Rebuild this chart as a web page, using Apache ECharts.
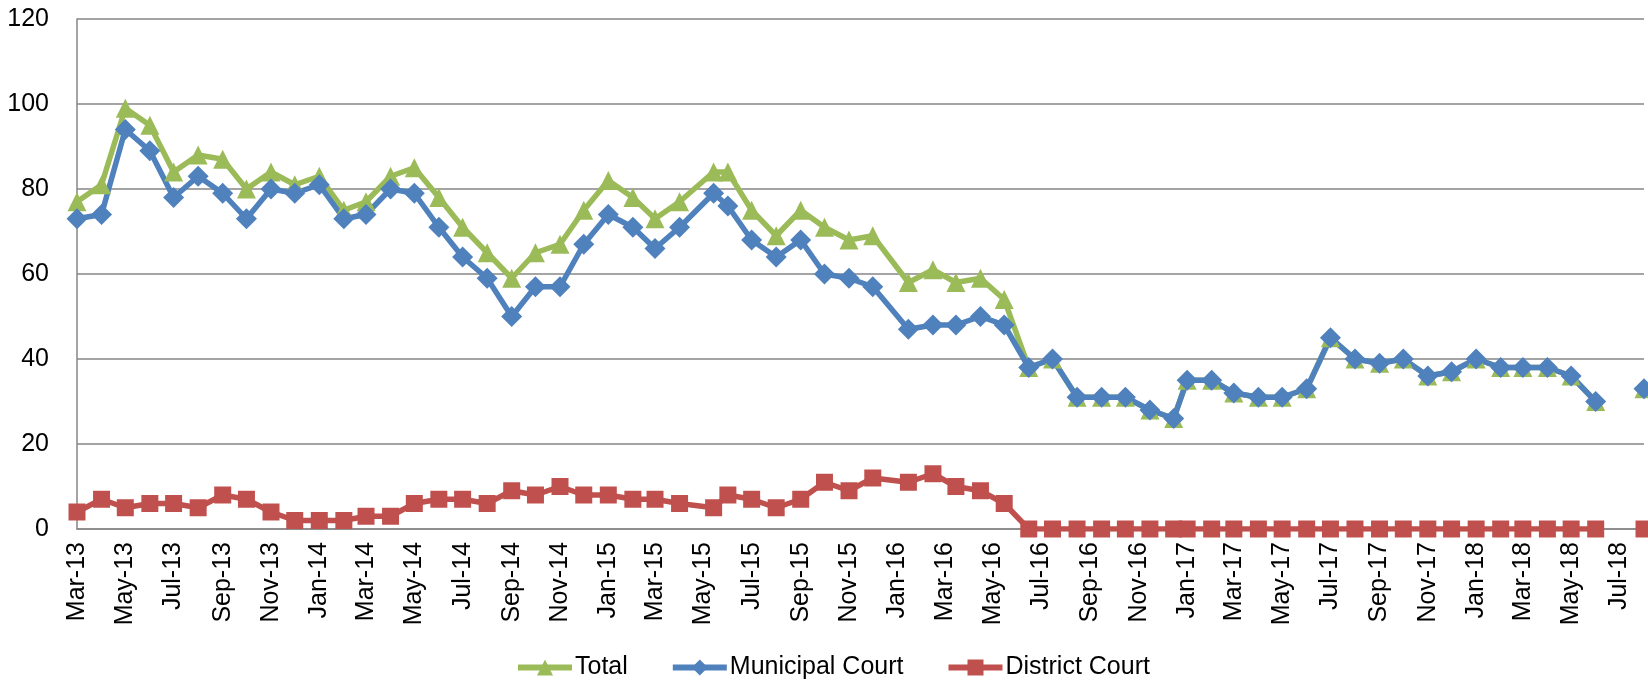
<!DOCTYPE html>
<html>
<head>
<meta charset="utf-8">
<title>Municipal and District Court cases</title>
<script src="https://cdn.jsdelivr.net/npm/echarts@6/dist/echarts.min.js"></script>
<style>
  html, body { margin: 0; padding: 0; background: #fff; }
  #chart { width: 1648px; height: 686px; }
</style>
</head>
<body>
<div id="chart"></div>
<script>
// observation dates (2016 rows were entered mid-month, May-15 on the 14th)
const dates = [
  '2013-03-01', '2013-04-01', '2013-05-01', '2013-06-01', '2013-07-01',
  '2013-08-01', '2013-09-01', '2013-10-01', '2013-11-01', '2013-12-01',
  '2014-01-01', '2014-02-01', '2014-03-01', '2014-04-01', '2014-05-01', '2014-06-01',
  '2014-07-01', '2014-08-01', '2014-09-01', '2014-10-01', '2014-11-01', '2014-12-01',
  '2015-01-01', '2015-02-01', '2015-03-01', '2015-04-01', '2015-05-14', '2015-06-01',
  '2015-07-01', '2015-08-01', '2015-09-01', '2015-10-01', '2015-11-01', '2015-12-01',
  '2016-01-15', '2016-02-15', '2016-03-15', '2016-04-15', '2016-05-15', '2016-06-15',
  '2016-07-15', '2016-08-15', '2016-09-15', '2016-10-15', '2016-11-15', '2016-12-15',
  '2017-01-01', '2017-02-01', '2017-03-01', '2017-04-01', '2017-05-01', '2017-06-01',
  '2017-07-01', '2017-08-01', '2017-09-01', '2017-10-01', '2017-11-01', '2017-12-01',
  '2018-01-01', '2018-02-01', '2018-03-01', '2018-04-01', '2018-05-01', '2018-06-01',
  '2018-07-01', '2018-08-01'
];

const total = [
  77, 81, 99, 95, 84, 88, 87, 80, 84, 81,
  83, 75, 77, 83, 85, 78, 71, 65, 59, 65, 67, 75,
  82, 78, 73, 77, 84, 84, 75, 69, 75, 71, 68, 69,
  58, 61, 58, 59, 54, 38, 40, 31, 31, 31, 28, 26,
  35, 35, 32, 31, 31, 33, 45, 40, 39, 40, 36, 37,
  40, 38, 38, 38, 36, 30, null, 33
];

const municipal = [
  73, 74, 94, 89, 78, 83, 79, 73, 80, 79,
  81, 73, 74, 80, 79, 71, 64, 59, 50, 57, 57, 67,
  74, 71, 66, 71, 79, 76, 68, 64, 68, 60, 59, 57,
  47, 48, 48, 50, 48, 38, 40, 31, 31, 31, 28, 26,
  35, 35, 32, 31, 31, 33, 45, 40, 39, 40, 36, 37,
  40, 38, 38, 38, 36, 30, null, 33
];

const district = [
  4, 7, 5, 6, 6, 5, 8, 7, 4, 2,
  2, 2, 3, 3, 6, 7, 7, 6, 9, 8, 10, 8,
  8, 7, 7, 6, 5, 8, 7, 5, 7, 11, 9, 12,
  11, 13, 10, 9, 6, 0, 0, 0, 0, 0, 0, 0,
  0, 0, 0, 0, 0, 0, 0, 0, 0, 0, 0, 0,
  0, 0, 0, 0, 0, 0, null, 0
];

const monthNames = ['Jan', 'Feb', 'Mar', 'Apr', 'May', 'Jun',
  'Jul', 'Aug', 'Sep', 'Oct', 'Nov', 'Dec'];

const FONT = 'Liberation Sans';
const GRID_GRAY = '#868686';
const TWO_MONTHS = 75 * 24 * 3600 * 1000;
const LINE_W = 5.5;

// blank cells stay gaps
function pairs(values) {
  return values.map((v, i) => [dates[i], v == null ? '-' : v]);
}

const chart = echarts.init(document.getElementById('chart'));

chart.setOption({
  animation: false,
  backgroundColor: '#fff',
  textStyle: { fontFamily: FONT },
  grid: {
    left: 77,
    right: 4,
    top: 19,
    bottom: 157
  },
  legend: {
    data: ['Total', 'Municipal Court', 'District Court'],
    left: 510,
    top: 650,
    itemWidth: 54,
    itemHeight: 20,
    itemGap: 42,
    lineStyle: { width: 6 },
    textStyle: {
      fontFamily: FONT,
      fontSize: 25,
      color: '#000',
      padding: [0, 0, 0, -2]
    }
  },
  xAxis: {
    type: 'time',
    min: dates[0],
    max: dates[dates.length - 1],
    minInterval: TWO_MONTHS,
    maxInterval: TWO_MONTHS,
    axisLine: { lineStyle: { color: GRID_GRAY, width: 1.5 } },
    axisTick: { show: false },
    splitLine: { show: false },
    axisLabel: {
      rotate: 90,
      margin: 13,
      fontFamily: FONT,
      fontSize: 25,
      color: '#000',
      hideOverlap: false,
      showMaxLabel: false,
      formatter: function (value) {
        const d = new Date(value);
        const m = d.getMonth();
        if (m % 2 !== 0) return '';
        return monthNames[m] + '-' + String(d.getFullYear()).slice(2);
      }
    }
  },
  yAxis: {
    type: 'value',
    min: 0,
    max: 120,
    interval: 20,
    axisLine: { show: true, lineStyle: { color: GRID_GRAY, width: 1.5 } },
    axisTick: { show: false },
    splitLine: { lineStyle: { color: GRID_GRAY, width: 1.5 } },
    axisLabel: {
      margin: 28,
      fontFamily: FONT,
      fontSize: 25,
      color: '#000'
    }
  },
  series: [
    {
      name: 'Total',
      type: 'line',
      data: pairs(total),
      symbol: 'triangle',
      symbolSize: 19,
      showAllSymbol: true,
      lineStyle: { color: '#9BBB59', width: LINE_W },
      itemStyle: { color: '#9BBB59', borderWidth: 0 }
    },
    {
      name: 'Municipal Court',
      type: 'line',
      data: pairs(municipal),
      symbol: 'diamond',
      symbolSize: 21,
      showAllSymbol: true,
      lineStyle: { color: '#4F81BD', width: LINE_W },
      itemStyle: { color: '#4F81BD', borderWidth: 0 }
    },
    {
      name: 'District Court',
      type: 'line',
      data: pairs(district),
      symbol: 'rect',
      symbolSize: 17,
      showAllSymbol: true,
      lineStyle: { color: '#C0504D', width: LINE_W },
      itemStyle: { color: '#C0504D', borderWidth: 0 }
    }
  ]
});
</script>
</body>
</html>
